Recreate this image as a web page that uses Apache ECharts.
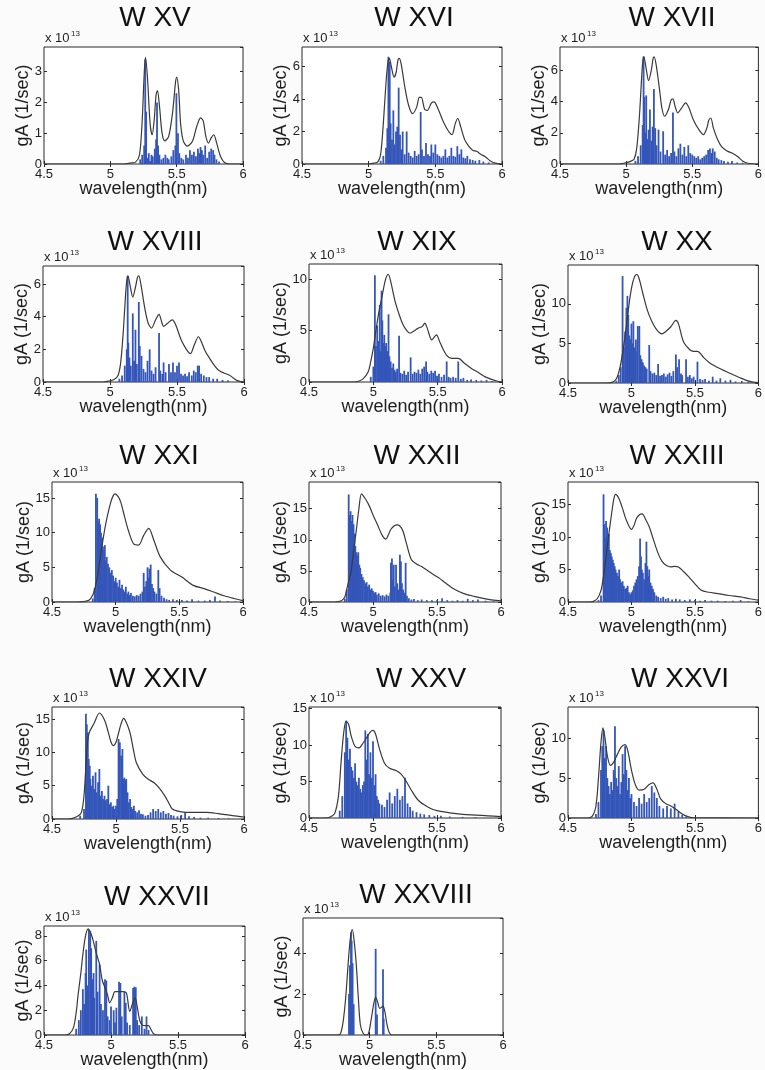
<!DOCTYPE html>
<html><head><meta charset="utf-8">
<script src="https://cdn.jsdelivr.net/npm/echarts@6/dist/echarts.min.js"></script>
<style>html,body{margin:0;padding:0;background:#fbfbfb}#c{width:765px;height:1070px}</style>
</head><body><div id="c"></div><script>
// ---------------- DATA (y in units of 1e13 1/sec, x in nm) ----------------
const titles = ['W XV','W XVI','W XVII','W XVIII','W XIX','W XX','W XXI','W XXII','W XXIII','W XXIV','W XXV','W XXVI','W XXVII','W XXVIII'];
const xTicks = [4.5, 5, 5.5, 6];
const yMax  = [3.8, 7.2, 7.5, 7.1, 11.5, 14.9, 17.3, 19.3, 18.5, 16.8, 15.2, 13.9, 8.8, 5.7];
const yStep = [1, 2, 2, 2, 5, 5, 5, 5, 5, 5, 5, 5, 2, 2];

const env_XV = [[4.5,0],[5.10,0],[5.15,0.03],[5.19,0.06],[5.22,0.3],[5.24,1.4],[5.255,2.9],[5.265,3.46],[5.28,2.8],[5.30,1.3],[5.315,0.95],[5.33,1.4],[5.345,2.25],[5.355,2.38],[5.37,1.9],[5.39,1.0],[5.41,0.75],[5.44,0.9],[5.47,1.7],[5.49,2.6],[5.50,2.82],[5.515,2.4],[5.53,1.3],[5.55,0.75],[5.58,0.58],[5.62,0.75],[5.65,1.2],[5.68,1.5],[5.70,1.4],[5.72,0.9],[5.74,0.68],[5.76,0.85],[5.78,0.95],[5.80,0.7],[5.83,0.25],[5.86,0.05],[5.9,0],[6,0]];
const sticks_XV = [[5.225,0.15],[5.24,0.3],[5.255,0.6],[5.263,3.4],[5.27,1.7],[5.28,0.2],[5.29,0.35],[5.30,0.1],[5.31,0.3],[5.32,0.25],[5.335,0.5],[5.345,0.8],[5.352,2.0],[5.36,0.6],[5.37,0.3],[5.385,0.15],[5.40,0.2],[5.415,0.3],[5.43,0.2],[5.44,0.15],[5.46,0.25],[5.475,0.45],[5.49,0.6],[5.498,2.3],[5.51,1.0],[5.52,0.35],[5.535,0.2],[5.55,0.15],[5.57,0.3],[5.585,0.2],[5.60,0.45],[5.615,0.3],[5.63,0.4],[5.645,0.25],[5.66,0.5],[5.67,0.35],[5.68,0.55],[5.69,0.45],[5.70,0.3],[5.715,0.6],[5.73,0.2],[5.745,0.4],[5.76,0.5],[5.775,0.45],[5.785,0.3],[5.80,0.15],[5.82,0.08]];

const env_XVI = [[4.5,0],[5.0,0],[5.04,0.05],[5.07,0.15],[5.09,0.6],[5.11,2.5],[5.13,5.0],[5.145,6.3],[5.155,6.5],[5.17,6.0],[5.19,5.35],[5.205,5.6],[5.22,6.4],[5.23,6.5],[5.245,6.1],[5.27,4.8],[5.30,3.6],[5.33,3.1],[5.36,3.5],[5.38,4.1],[5.395,4.1],[5.42,3.35],[5.44,3.3],[5.47,3.75],[5.49,3.82],[5.52,3.4],[5.56,2.6],[5.60,2.0],[5.625,1.8],[5.65,2.5],[5.668,2.8],[5.69,2.3],[5.72,1.5],[5.75,1.1],[5.78,0.85],[5.81,0.78],[5.84,0.6],[5.875,0.45],[5.91,0.2],[5.95,0.05],[6,0]];
const sticks_XVI = [[5.09,0.2],[5.11,0.5],[5.13,1.0],[5.14,2.2],[5.148,6.6],[5.152,4.0],[5.158,6.3],[5.165,2.5],[5.175,1.5],[5.185,3.3],[5.195,1.2],[5.205,2.0],[5.215,2.3],[5.225,4.7],[5.235,1.8],[5.245,0.9],[5.255,2.0],[5.27,0.6],[5.285,2.0],[5.30,0.7],[5.315,0.5],[5.33,0.4],[5.345,0.8],[5.36,0.5],[5.375,0.6],[5.39,3.2],[5.40,0.9],[5.415,0.5],[5.43,1.3],[5.445,0.6],[5.46,0.5],[5.47,1.2],[5.485,0.7],[5.50,1.2],[5.515,0.6],[5.53,0.5],[5.545,0.4],[5.56,0.5],[5.575,0.9],[5.59,0.4],[5.605,0.5],[5.62,1.0],[5.635,0.5],[5.65,0.45],[5.665,1.1],[5.68,0.6],[5.695,0.9],[5.71,0.4],[5.725,0.35],[5.74,0.5],[5.76,0.3],[5.78,0.25],[5.80,0.2],[5.83,0.25],[5.86,0.15],[5.9,0.1]];

const env_XVII = [[4.5,0],[4.95,0],[4.98,0.05],[5.01,0.1],[5.04,0.2],[5.06,0.3],[5.08,1.0],[5.10,3.0],[5.115,5.2],[5.125,6.5],[5.134,6.87],[5.15,6.2],[5.17,5.35],[5.19,6.0],[5.205,6.8],[5.212,6.87],[5.23,6.2],[5.255,4.6],[5.27,3.6],[5.29,3.06],[5.32,3.5],[5.34,4.1],[5.354,4.18],[5.37,3.7],[5.39,3.28],[5.42,3.6],[5.45,3.92],[5.475,3.6],[5.51,2.8],[5.55,2.2],[5.585,1.88],[5.61,2.3],[5.625,2.8],[5.64,2.95],[5.66,2.3],[5.69,1.6],[5.72,1.13],[5.76,0.85],[5.80,0.7],[5.84,0.5],[5.88,0.2],[5.92,0.05],[6,0]];
const sticks_XVII = [[5.07,0.2],[5.09,0.5],[5.11,1.2],[5.125,2.5],[5.132,6.9],[5.138,4.3],[5.145,2.0],[5.152,4.4],[5.16,1.6],[5.17,2.2],[5.18,3.5],[5.19,1.5],[5.20,2.4],[5.21,4.8],[5.22,2.3],[5.23,1.2],[5.245,2.2],[5.26,0.8],[5.28,2.1],[5.295,0.6],[5.31,0.9],[5.325,0.5],[5.34,0.7],[5.354,3.3],[5.365,0.8],[5.38,0.5],[5.395,1.0],[5.41,1.3],[5.425,0.6],[5.44,1.1],[5.455,0.5],[5.47,1.2],[5.485,0.7],[5.50,0.6],[5.515,0.5],[5.53,0.4],[5.545,0.5],[5.56,0.3],[5.575,0.4],[5.59,0.5],[5.605,0.6],[5.62,0.9],[5.634,1.0],[5.645,0.7],[5.655,1.0],[5.67,0.8],[5.685,0.4],[5.70,0.3],[5.72,0.25],[5.74,0.2],[5.77,0.15],[5.80,0.2],[5.84,0.1],[5.88,0.08]];

const env_XVIII = [[4.5,0],[4.95,0],[4.99,0.05],[5.03,0.15],[5.06,0.4],[5.08,1.2],[5.10,3.2],[5.115,5.2],[5.125,6.2],[5.134,6.5],[5.15,5.9],[5.17,5.2],[5.19,5.8],[5.205,6.4],[5.215,6.5],[5.23,6.0],[5.26,4.5],[5.285,3.6],[5.31,3.3],[5.34,3.8],[5.366,4.14],[5.385,3.7],[5.40,3.4],[5.43,3.6],[5.465,3.8],[5.49,3.5],[5.53,2.6],[5.57,2.0],[5.60,1.74],[5.63,2.3],[5.66,2.77],[5.68,2.5],[5.71,1.9],[5.745,1.43],[5.78,1.0],[5.81,0.72],[5.85,0.55],[5.895,0.4],[5.92,0.25],[5.945,0.1],[5.98,0.02],[6,0]];
const sticks_XVIII = [[5.07,0.2],[5.09,0.4],[5.11,1.0],[5.125,2.0],[5.132,6.5],[5.137,2.4],[5.145,1.5],[5.155,1.0],[5.17,4.2],[5.18,1.3],[5.19,3.2],[5.20,1.1],[5.215,4.9],[5.222,2.2],[5.235,1.6],[5.25,0.8],[5.265,0.6],[5.28,1.3],[5.296,2.0],[5.31,0.7],[5.325,0.5],[5.34,0.9],[5.366,3.0],[5.375,0.7],[5.39,0.5],[5.40,1.2],[5.415,0.6],[5.44,1.1],[5.455,0.6],[5.47,1.2],[5.485,0.6],[5.50,1.0],[5.515,1.2],[5.53,0.5],[5.545,0.4],[5.56,0.5],[5.575,0.35],[5.59,0.6],[5.61,0.4],[5.625,0.7],[5.64,0.6],[5.655,1.0],[5.665,1.0],[5.68,0.5],[5.70,0.4],[5.72,0.3],[5.74,0.3],[5.77,0.2],[5.80,0.2],[5.84,0.12],[5.88,0.1]];

const env_XIX = [[4.5,0],[4.85,0],[4.88,0.05],[4.92,0.3],[4.96,1.0],[4.98,2.0],[5.0,3.3],[5.02,5.0],[5.04,6.6],[5.07,8.5],[5.095,10.0],[5.116,10.5],[5.135,9.8],[5.168,7.9],[5.20,6.6],[5.23,5.6],[5.26,5.0],[5.285,4.75],[5.32,5.0],[5.35,5.25],[5.38,5.4],[5.40,5.74],[5.42,5.2],[5.454,4.1],[5.475,4.4],[5.49,4.6],[5.52,3.8],[5.57,2.6],[5.61,2.3],[5.66,2.3],[5.71,1.8],[5.765,1.3],[5.82,0.9],[5.87,0.5],[5.92,0.25],[5.96,0.1],[6,0.02]];
const sticks_XIX = [[4.98,0.5],[5.0,1.5],[5.012,10.4],[5.02,3.5],[5.03,5.5],[5.04,4.0],[5.05,7.5],[5.058,3.0],[5.064,8.9],[5.07,6.0],[5.078,3.8],[5.085,4.6],[5.092,3.5],[5.10,3.8],[5.11,3.0],[5.118,6.6],[5.125,2.5],[5.135,2.0],[5.145,1.4],[5.155,1.8],[5.165,1.2],[5.175,1.0],[5.185,1.3],[5.20,4.5],[5.21,0.9],[5.225,0.8],[5.24,1.1],[5.255,0.7],[5.27,1.0],[5.29,2.4],[5.305,0.8],[5.32,1.0],[5.335,0.9],[5.35,1.2],[5.365,0.8],[5.38,1.3],[5.395,1.5],[5.41,2.0],[5.42,1.0],[5.435,0.8],[5.45,1.1],[5.465,0.9],[5.48,1.1],[5.495,0.6],[5.51,0.8],[5.53,0.5],[5.55,0.7],[5.57,2.0],[5.585,0.5],[5.60,0.4],[5.62,0.5],[5.64,0.4],[5.66,2.0],[5.68,0.3],[5.70,0.4],[5.73,0.2],[5.76,0.25],[5.80,0.2],[5.84,0.15],[5.88,0.2],[5.92,0.1]];

const env_XX = [[4.5,0],[4.80,0],[4.84,0.05],[4.88,0.5],[4.91,2.0],[4.93,3.8],[4.95,6.0],[4.97,8.5],[4.99,11.0],[5.01,12.7],[5.03,13.6],[5.043,13.7],[5.06,13.2],[5.09,11.3],[5.127,9.1],[5.16,7.8],[5.20,6.7],[5.24,6.2],[5.27,6.5],[5.31,7.1],[5.35,7.9],[5.37,7.5],[5.41,5.2],[5.46,4.2],[5.49,4.0],[5.52,4.0],[5.57,3.2],[5.62,2.5],[5.70,1.8],[5.78,1.2],[5.85,0.7],[5.91,0.3],[5.96,0.1],[6,0.05]];
const sticks_XX = [[4.88,0.3],[4.90,1.0],[4.915,2.0],[4.93,13.5],[4.94,4.5],[4.95,6.5],[4.96,9.5],[4.968,11.0],[4.975,8.6],[4.983,6.0],[4.99,5.5],[5.0,7.5],[5.008,5.0],[5.015,7.8],[5.025,4.5],[5.035,5.5],[5.045,4.0],[5.05,7.2],[5.062,7.2],[5.07,3.5],[5.08,3.0],[5.09,2.6],[5.10,2.2],[5.11,2.0],[5.12,1.8],[5.14,4.8],[5.15,1.5],[5.165,1.2],[5.18,1.3],[5.195,1.0],[5.21,2.4],[5.225,0.9],[5.24,1.0],[5.255,1.2],[5.27,0.8],[5.285,1.1],[5.30,1.3],[5.315,0.9],[5.33,1.5],[5.35,3.6],[5.36,2.0],[5.375,3.0],[5.39,1.2],[5.40,1.0],[5.43,3.0],[5.445,0.8],[5.46,1.0],[5.475,0.6],[5.49,0.8],[5.52,2.7],[5.54,0.5],[5.56,0.4],[5.58,0.5],[5.61,0.3],[5.64,0.8],[5.67,0.3],[5.70,0.6],[5.74,0.3],[5.78,0.4],[5.82,0.2],[5.87,0.25],[5.92,0.1]];

const env_XXI = [[4.5,0],[4.70,0],[4.74,0.05],[4.79,0.25],[4.82,1.0],[4.84,2.2],[4.86,4.0],[4.88,6.5],[4.905,9.5],[4.93,12.0],[4.96,14.3],[4.98,15.3],[4.995,15.6],[5.02,15.2],[5.04,14.4],[5.07,12.3],[5.10,10.3],[5.14,8.4],[5.18,8.2],[5.22,9.6],[5.26,10.6],[5.30,8.9],[5.35,6.5],[5.43,4.6],[5.52,3.6],[5.61,2.4],[5.70,1.9],[5.77,1.44],[5.85,0.9],[5.93,0.5],[6,0.2]];
const sticks_XXI = [[4.82,0.5],[4.835,2.0],[4.845,15.6],[4.855,15.0],[4.862,11.5],[4.87,12.0],[4.878,11.2],[4.885,10.0],[4.893,9.3],[4.90,8.0],[4.908,7.5],[4.915,8.2],[4.922,6.0],[4.93,6.5],[4.94,5.5],[4.95,5.0],[4.96,4.2],[4.97,4.6],[4.98,3.8],[4.99,3.0],[5.0,3.5],[5.01,2.8],[5.02,2.2],[5.03,3.2],[5.04,2.0],[5.05,2.5],[5.06,1.8],[5.07,1.5],[5.08,2.2],[5.09,1.2],[5.10,1.5],[5.11,1.0],[5.12,1.3],[5.135,0.9],[5.15,0.8],[5.165,1.0],[5.18,0.9],[5.195,1.2],[5.21,1.5],[5.22,4.2],[5.23,2.2],[5.24,3.0],[5.25,5.0],[5.258,3.5],[5.265,4.8],[5.275,5.4],[5.285,2.6],[5.295,2.0],[5.305,1.5],[5.32,1.2],[5.335,4.6],[5.345,2.0],[5.36,0.9],[5.38,0.6],[5.40,0.4],[5.42,0.3],[5.45,0.4],[5.48,0.3],[5.52,0.3],[5.56,0.2],[5.60,0.4],[5.65,0.2],[5.70,0.2],[5.74,0.3],[5.78,0.8],[5.82,0.2],[5.88,0.15],[5.94,0.1]];

const env_XXII = [[4.5,0],[4.70,0],[4.73,0.05],[4.76,0.3],[4.78,0.8],[4.80,2.5],[4.83,5.1],[4.85,8.5],[4.87,11.6],[4.89,15.0],[4.91,17.4],[4.94,16.6],[4.97,15.5],[5.0,14.0],[5.04,12.2],[5.07,10.8],[5.10,10.1],[5.12,10.8],[5.14,11.7],[5.17,12.3],[5.19,12.4],[5.23,11.6],[5.26,9.5],[5.30,6.8],[5.34,6.1],[5.38,5.7],[5.43,5.0],[5.48,4.3],[5.52,3.8],[5.57,3.0],[5.64,2.0],[5.71,1.35],[5.79,0.9],[5.87,0.55],[5.94,0.3],[6,0.2]];
const sticks_XXII = [[4.78,0.5],[4.795,2.0],[4.81,17.3],[4.818,14.0],[4.825,14.6],[4.832,13.0],[4.84,14.0],[4.848,12.5],[4.855,11.0],[4.862,9.0],[4.87,8.0],[4.878,7.5],[4.885,8.0],[4.893,6.0],[4.90,5.5],[4.91,4.5],[4.92,4.0],[4.93,3.5],[4.94,3.0],[4.95,3.2],[4.96,2.5],[4.97,2.8],[4.98,2.0],[4.99,2.2],[5.0,1.8],[5.01,1.5],[5.02,1.6],[5.03,1.2],[5.045,1.4],[5.06,1.0],[5.075,1.1],[5.09,0.9],[5.105,1.2],[5.12,1.0],[5.135,1.5],[5.14,6.3],[5.148,7.0],[5.155,3.5],[5.162,6.0],[5.17,2.5],[5.18,6.0],[5.19,3.0],[5.20,2.0],[5.21,7.6],[5.218,6.5],[5.226,3.0],[5.235,2.0],[5.245,1.5],[5.255,6.3],[5.265,1.0],[5.28,0.6],[5.30,0.4],[5.32,0.5],[5.35,0.3],[5.38,0.4],[5.42,0.3],[5.46,0.3],[5.50,0.3],[5.54,0.6],[5.58,0.3],[5.62,0.2],[5.66,0.3],[5.70,0.2],[5.74,0.5],[5.78,0.3],[5.82,0.4],[5.88,0.2],[5.94,0.1]];

const env_XXIII = [[4.5,0],[4.66,0],[4.70,0.1],[4.73,0.5],[4.76,1.8],[4.78,4.0],[4.80,7.0],[4.82,10.2],[4.84,13.1],[4.86,15.8],[4.875,16.6],[4.90,16.0],[4.925,14.7],[4.96,12.6],[5.0,11.2],[5.02,11.8],[5.04,12.9],[5.065,13.5],[5.085,13.6],[5.11,12.8],[5.14,11.6],[5.17,9.8],[5.21,7.5],[5.24,6.3],[5.27,5.7],[5.31,5.4],[5.34,5.5],[5.37,5.4],[5.41,4.7],[5.45,3.9],[5.50,2.8],[5.55,1.8],[5.61,1.5],[5.68,1.3],[5.77,1.0],[5.86,0.8],[5.93,0.5],[6,0.3]];
const sticks_XXIII = [[4.74,0.3],[4.76,1.0],[4.78,16.6],[4.787,12.0],[4.795,10.0],[4.80,12.5],[4.808,11.5],[4.815,9.5],[4.822,10.5],[4.83,8.0],[4.838,7.5],[4.845,7.0],[4.853,6.5],[4.86,6.0],[4.868,5.5],[4.875,5.0],[4.885,4.5],[4.895,4.0],[4.903,5.0],[4.91,3.5],[4.92,3.0],[4.93,3.2],[4.94,2.5],[4.95,2.0],[4.96,2.2],[4.97,2.5],[4.98,1.5],[4.99,1.2],[5.0,1.5],[5.01,1.8],[5.02,2.5],[5.03,3.0],[5.04,3.5],[5.05,4.0],[5.06,5.5],[5.068,9.8],[5.075,7.0],[5.082,5.0],[5.09,4.5],[5.10,3.5],[5.11,6.0],[5.118,9.3],[5.125,5.5],[5.133,4.0],[5.14,5.0],[5.15,3.0],[5.16,2.5],[5.17,2.0],[5.18,1.5],[5.195,1.0],[5.21,0.8],[5.23,0.6],[5.25,0.8],[5.27,0.5],[5.29,0.6],[5.32,0.4],[5.35,0.5],[5.38,0.4],[5.42,0.3],[5.46,0.4],[5.50,0.3],[5.54,0.2],[5.58,0.3],[5.63,0.2],[5.68,0.2],[5.74,0.15],[5.80,0.2],[5.86,0.3],[5.92,0.1]];

const env_XXIV = [[4.5,0],[4.62,0],[4.66,0.1],[4.70,0.4],[4.73,1.0],[4.75,3.5],[4.765,8.0],[4.775,11.0],[4.79,12.9],[4.83,14.4],[4.87,15.9],[4.91,14.85],[4.94,13.0],[4.96,11.6],[4.98,11.0],[5.0,11.5],[5.02,12.9],[5.04,14.3],[5.06,15.1],[5.08,14.5],[5.11,12.9],[5.135,10.5],[5.16,8.4],[5.21,6.7],[5.25,6.0],[5.30,5.4],[5.34,4.6],[5.38,3.5],[5.41,2.5],[5.44,1.5],[5.50,1.1],[5.55,1.0],[5.63,1.0],[5.71,1.0],[5.80,0.8],[5.91,0.5],[6,0.3]];
const sticks_XXIV = [[4.72,0.5],[4.75,1.5],[4.765,15.8],[4.772,14.2],[4.78,13.0],[4.787,9.0],[4.795,8.0],[4.80,6.0],[4.81,5.0],[4.82,6.5],[4.83,4.5],[4.84,7.0],[4.85,4.0],[4.86,5.5],[4.87,7.5],[4.88,3.5],[4.89,4.2],[4.90,3.0],[4.91,3.5],[4.92,2.8],[4.93,3.0],[4.94,5.0],[4.95,2.2],[4.96,2.5],[4.97,1.8],[4.98,2.0],[4.99,1.5],[5.0,2.0],[5.01,3.0],[5.02,12.0],[5.03,11.5],[5.04,9.5],[5.045,5.5],[5.05,10.5],[5.058,6.0],[5.065,6.2],[5.072,5.8],[5.08,6.0],[5.09,4.0],[5.10,2.5],[5.11,3.0],[5.12,1.8],[5.13,1.5],[5.14,2.0],[5.15,1.2],[5.165,1.0],[5.18,1.3],[5.195,0.8],[5.21,0.7],[5.23,0.5],[5.25,0.6],[5.27,1.0],[5.29,1.5],[5.31,1.2],[5.33,1.5],[5.35,1.0],[5.37,1.2],[5.39,0.8],[5.41,0.9],[5.43,0.6],[5.45,0.5],[5.48,0.4],[5.51,0.6],[5.54,1.0],[5.57,0.4],[5.61,0.3],[5.66,0.2],[5.72,0.2],[5.80,0.15],[5.88,0.1]];

const env_XXV = [[4.5,0],[4.62,0],[4.66,0.1],[4.70,0.6],[4.73,3.0],[4.75,7.5],[4.77,11.5],[4.79,13.3],[4.81,12.8],[4.83,11.2],[4.86,9.8],[4.89,9.6],[4.92,10.2],[4.95,11.0],[4.98,11.8],[5.00,12.0],[5.02,11.5],[5.05,9.5],[5.09,7.5],[5.13,6.8],[5.18,6.5],[5.22,6.0],[5.26,5.0],[5.30,3.8],[5.35,2.5],[5.40,1.8],[5.45,1.3],[5.50,1.0],[5.60,0.7],[5.70,0.5],[5.80,0.4],[5.90,0.3],[6.0,0.2]];
const sticks_XXV = [[4.74,1.0],[4.76,3.0],[4.78,9.0],[4.79,13.2],[4.80,11.0],[4.81,8.0],[4.82,9.5],[4.83,7.0],[4.84,6.5],[4.85,5.5],[4.86,7.5],[4.87,5.0],[4.88,4.5],[4.89,5.5],[4.90,4.0],[4.91,3.5],[4.92,4.5],[4.93,5.0],[4.94,12.0],[4.95,8.0],[4.96,11.5],[4.97,6.0],[4.98,9.0],[4.99,5.5],[5.0,10.5],[5.01,4.5],[5.02,6.0],[5.03,3.0],[5.04,2.5],[5.05,2.0],[5.07,1.8],[5.09,1.5],[5.11,2.5],[5.13,3.5],[5.15,2.0],[5.17,3.0],[5.19,4.0],[5.21,2.5],[5.23,3.0],[5.25,5.5],[5.27,2.0],[5.29,1.5],[5.31,1.0],[5.34,0.8],[5.37,0.6],[5.40,0.5],[5.44,0.4],[5.48,0.3],[5.53,0.3],[5.60,0.2],[5.70,0.15],[5.80,0.1]];

const env_XXVI = [[4.5,0],[4.65,0],[4.69,0.2],[4.72,1.5],[4.74,5.0],[4.76,9.5],[4.775,11.3],[4.79,10.2],[4.81,7.8],[4.835,6.6],[4.86,7.0],[4.89,8.0],[4.92,8.9],[4.95,9.2],[4.97,8.5],[5.0,6.0],[5.03,4.2],[5.06,3.5],[5.10,3.6],[5.14,4.2],[5.17,4.4],[5.20,3.6],[5.23,2.4],[5.27,1.8],[5.31,1.5],[5.35,1.1],[5.40,0.5],[5.45,0.15],[5.5,0.03],[6.0,0]];
const sticks_XXVI = [[4.72,0.5],[4.74,2.0],[4.76,6.0],[4.77,9.0],[4.78,11.0],[4.79,7.5],[4.80,9.0],[4.81,5.0],[4.82,4.0],[4.83,3.0],[4.84,4.5],[4.85,3.5],[4.86,6.0],[4.87,11.5],[4.88,5.0],[4.89,4.0],[4.90,6.5],[4.91,3.0],[4.92,4.5],[4.93,8.0],[4.94,5.5],[4.95,9.0],[4.96,6.0],[4.97,3.5],[4.98,5.0],[4.99,2.5],[5.0,3.0],[5.02,2.0],[5.04,1.5],[5.06,2.5],[5.08,1.8],[5.10,3.0],[5.12,2.0],[5.14,2.5],[5.16,4.0],[5.18,3.2],[5.20,2.5],[5.22,1.5],[5.25,1.2],[5.28,1.5],[5.31,1.2],[5.34,1.8],[5.37,0.8],[5.40,0.4],[5.43,0.2]];

const env_XXVII = [[4.5,0],[4.66,0],[4.69,0.1],[4.72,0.6],[4.74,1.8],[4.755,3.3],[4.775,5.0],[4.79,6.5],[4.81,8.0],[4.83,8.56],[4.85,8.2],[4.865,7.7],[4.89,6.6],[4.915,5.7],[4.935,4.4],[4.96,3.7],[4.975,3.2],[4.99,2.6],[5.01,3.0],[5.03,3.5],[5.06,3.5],[5.09,3.5],[5.115,3.4],[5.14,1.9],[5.16,2.5],[5.18,3.0],[5.20,2.0],[5.215,1.15],[5.235,0.8],[5.26,0.75],[5.28,0.75],[5.30,0.4],[5.32,0.08],[5.35,0],[6.0,0]];
const sticks_XXVII = [[4.74,0.5],[4.76,1.2],[4.775,2.0],[4.79,3.7],[4.80,2.5],[4.81,5.0],[4.815,6.9],[4.825,4.0],[4.835,8.5],[4.845,8.4],[4.852,7.0],[4.86,4.5],[4.87,5.0],[4.875,3.0],[4.89,7.6],[4.90,3.5],[4.915,5.7],[4.925,2.5],[4.94,2.0],[4.955,4.5],[4.965,4.4],[4.975,1.5],[4.99,1.2],[5.0,2.3],[5.02,2.0],[5.03,1.0],[5.04,2.2],[5.06,4.3],[5.07,4.2],[5.08,1.5],[5.10,3.5],[5.11,2.6],[5.12,1.0],[5.14,0.8],[5.165,3.8],[5.175,3.9],[5.185,3.85],[5.195,1.2],[5.21,0.8],[5.23,1.5],[5.25,0.5],[5.265,1.5],[5.28,0.4]];

const env_XXVIII = [[4.5,0],[4.76,0],[4.78,0.05],[4.80,0.6],[4.82,1.8],[4.84,3.6],[4.855,4.7],[4.87,5.13],[4.885,4.5],[4.90,3.4],[4.915,1.8],[4.93,0.5],[4.95,0.1],[4.97,0],[4.99,0.05],[5.01,0.7],[5.03,1.5],[5.045,1.85],[5.06,1.6],[5.075,1.3],[5.09,1.35],[5.10,1.42],[5.115,1.1],[5.13,0.5],[5.145,0.15],[5.165,0],[6.0,0]];
const sticks_XXVIII = [[4.845,2.0],[4.852,3.4],[4.86,5.0],[4.865,4.6],[4.872,3.5],[4.88,1.5],[5.045,4.2],[5.055,1.0],[5.10,3.2],[5.105,0.8]];

const envelopes = [env_XV,env_XVI,env_XVII,env_XVIII,env_XIX,env_XX,env_XXI,env_XXII,env_XXIII,env_XXIV,env_XXV,env_XXVI,env_XXVII,env_XXVIII];
const sticks = [sticks_XV,sticks_XVI,sticks_XVII,sticks_XVIII,sticks_XIX,sticks_XX,sticks_XXI,sticks_XXII,sticks_XXIII,sticks_XXIV,sticks_XXV,sticks_XXVI,sticks_XXVII,sticks_XXVIII];

// ---------------- LAYOUT ----------------
const layout = [
  [44,47,199,117],[302,47,200,117],[560,47,202,117],
  [43,266,201,116],[309,264,193,118],[568,265,194,118],
  [52,482,191,120],[309,482,192,120],[568,482,194,120],
  [52,707,192,112],[309,707,192,111],[568,707,194,111],
  [44,926,201,110],[303,918,200,118]
];
const titlePos = [[155,18],[414,18],[672,18],[155,242],[417,242],[677,242],[159,456],[417,456],[677,456],[158,679],[421,679],[680,679],[157,897],[416,895]];

const FONT = "'Liberation Sans', Arial, Helvetica, sans-serif";
const INK = '#1e1e1e';
const grid = [], xAxis = [], yAxis = [], series = [], graphic = [];

titles.forEach((t, i) => {
  const [L, T, W, H] = layout[i];
  grid.push({left: L, top: T, width: W, height: H, show: true, borderColor: '#2a2a2a', borderWidth: 1, backgroundColor: '#ffffff'});
  const tickStyle = {show: true, inside: true, length: 3, lineStyle: {color: '#2a2a2a', width: 1}};
  xAxis.push({
    gridIndex: i, type: 'value', min: xTicks[0], max: xTicks[xTicks.length-1], interval: 0.5,
    axisLine: {show: false}, axisTick: tickStyle, splitLine: {show: false},
    axisLabel: {margin: 4, fontSize: 13, color: INK, fontFamily: FONT},
    name: 'wavelength(nm)', nameLocation: 'middle', nameGap: 16, nameMoveOverlap: false,
    nameTextStyle: {fontSize: 18, color: INK, fontFamily: FONT}
  });
  xAxis.push({
    gridIndex: i, type: 'value', position: 'top', min: xTicks[0], max: xTicks[xTicks.length-1], interval: 0.5,
    axisLine: {show: false}, axisTick: tickStyle, splitLine: {show: false}, axisLabel: {show: false}
  });
  // keep the rotated name just outside the widest tick label (1 or 2 digits)
  const digits = String(Math.floor(yMax[i] / yStep[i]) * yStep[i]).length;
  const gap = digits * 7.2 + 5;
  yAxis.push({
    gridIndex: i, type: 'value', min: 0, max: yMax[i], interval: yStep[i],
    axisLine: {show: false}, axisTick: tickStyle, splitLine: {show: false},
    axisLabel: {margin: 2, fontSize: 13, color: INK, fontFamily: FONT, showMaxLabel: false},
    name: 'gA (1/sec)', nameLocation: 'middle', nameGap: gap, nameMoveOverlap: false,
    nameTextStyle: {fontSize: 18, color: INK, fontFamily: FONT}
  });
  yAxis.push({
    gridIndex: i, type: 'value', position: 'right', min: 0, max: yMax[i], interval: yStep[i],
    axisLine: {show: false}, axisTick: tickStyle, splitLine: {show: false}, axisLabel: {show: false}
  });
  series.push({
    type: 'bar', xAxisIndex: 2*i, yAxisIndex: 2*i, data: sticks[i], barWidth: 1.8,
    itemStyle: {color: '#3456b9'}, silent: true, z: 2
  });
  series.push({
    type: 'line', xAxisIndex: 2*i, yAxisIndex: 2*i, data: envelopes[i], showSymbol: false, smooth: 0.3,
    lineStyle: {color: '#3a3a3a', width: 1.2}, silent: true, z: 3
  });
  graphic.push({type: 'text', x: titlePos[i][0], y: titlePos[i][1], silent: true,
    style: {text: t, fontSize: 28, fontFamily: FONT, fill: '#111', align: 'center', verticalAlign: 'middle'}});
  graphic.push({type: 'text', x: L + 1, y: T - 2, silent: true,
    style: {text: 'x 10', fontSize: 13, fontFamily: FONT, fill: INK, align: 'left', verticalAlign: 'bottom'}});
  graphic.push({type: 'text', x: L + 27, y: T - 9, silent: true,
    style: {text: '13', fontSize: 8, fontFamily: FONT, fill: INK, align: 'left', verticalAlign: 'bottom'}});
});

const chart = echarts.init(document.getElementById('c'));
chart.setOption({
  animation: false,
  backgroundColor: '#fbfbfb',
  grid, xAxis, yAxis, series, graphic
});
</script></body></html>
